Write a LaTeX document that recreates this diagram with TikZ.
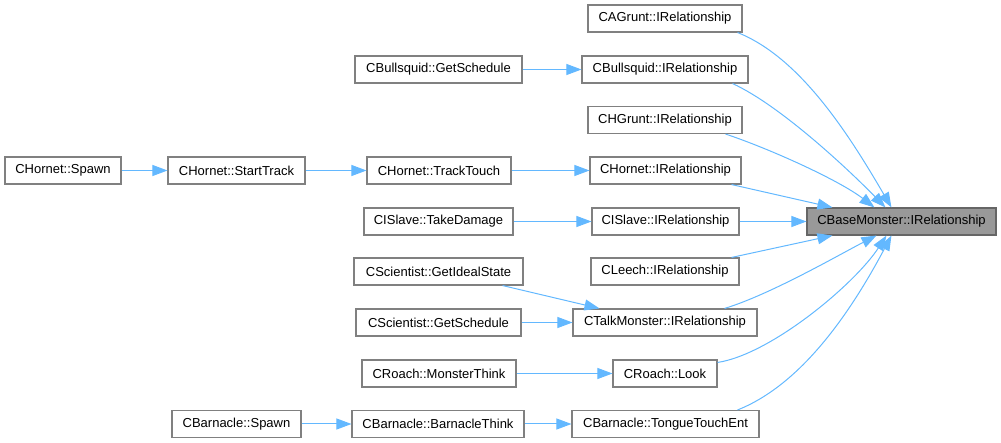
\documentclass[tikz,border=0pt]{standalone}
\usepackage{fontspec}
\setmainfont{Liberation Sans}
\usetikzlibrary{arrows.meta,calc}
\definecolor{edgeblue}{HTML}{63B8FF}
\definecolor{boxgray}{HTML}{808080}
\definecolor{basefill}{HTML}{999999}
\definecolor{baseline}{HTML}{666666}
\begin{document}
\begin{tikzpicture}[x=1bp,y=-1bp,
  font=\fontsize{13bp}{15bp}\selectfont,
  box/.style={draw=boxgray, line width=1.1bp, fill=white, minimum height=27bp, inner sep=0pt, anchor=center},
  basebox/.style={box, fill=basefill, draw=baseline},
  edge/.style={draw=edgeblue, line width=1bp, -{Triangle[length=15bp,width=11bp]}}]
\useasboundingbox (0,0) rectangle (1001,443);
% nodes
\node[box, minimum width=154bp] (agrunt) at (665,18.5) {CAGrunt::IRelationship};
\node[box, minimum width=167bp] (bsqgs) at (438.5,69.5) {CBullsquid::GetSchedule};
\node[box, minimum width=166bp] (bsq) at (665,69.5) {CBullsquid::IRelationship};
\node[box, minimum width=154bp] (hgrunt) at (665,120) {CHGrunt::IRelationship};
\node[box, minimum width=116bp] (hspawn) at (63,170.5) {CHornet::Spawn};
\node[box, minimum width=137bp] (hstart) at (236.5,170.5) {CHornet::StartTrack};
\node[box, minimum width=144bp] (htouch) at (439,170.5) {CHornet::TrackTouch};
\node[box, minimum width=151bp] (hrel) at (665.5,170.5) {CHornet::IRelationship};
\node[box, minimum width=149bp] (istd) at (438.5,221.5) {CISlave::TakeDamage};
\node[box, minimum width=147bp] (isrel) at (665.5,221.5) {CISlave::IRelationship};
\node[basebox, minimum width=189bp] (base) at (901.5,221.5) {CBaseMonster::IRelationship};
\node[box, minimum width=169bp] (scgis) at (438.5,271.5) {CScientist::GetIdealState};
\node[box, minimum width=148bp] (leech) at (665,271.5) {CLeech::IRelationship};
\node[box, minimum width=165bp] (scgs) at (438.5,322.5) {CScientist::GetSchedule};
\node[box, minimum width=184bp] (talk) at (665,322.5) {CTalkMonster::IRelationship};
\node[box, minimum width=154bp] (rmt) at (439,373.5) {CRoach::MonsterThink};
\node[box, minimum width=104bp] (rlook) at (665,373.5) {CRoach::Look};
\node[box, minimum width=129bp] (bspawn) at (236.5,424) {CBarnacle::Spawn};
\node[box, minimum width=172bp] (bthink) at (438,424) {CBarnacle::BarnacleThink};
\node[box, minimum width=187bp] (btongue) at (665.5,424) {CBarnacle::TongueTouchEnt};
% straight edges
\draw[edge] (bsqgs) -- (bsq);
\draw[edge] (hspawn) -- (hstart);
\draw[edge] (hstart) -- (htouch);
\draw[edge] (htouch) -- (hrel);
\draw[edge] (istd) -- (isrel);
\draw[edge] (isrel) -- (base);
\draw[edge] (scgs) -- (talk);
\draw[edge] (rmt) -- (rlook);
\draw[edge] (bspawn) -- (bthink);
\draw[edge] (bthink) -- (btongue);
\draw[edge] ($(scgis.south east)+(-21,0)$) -- ($(talk.north west)+(27,0)$);
\draw[edge] ($(hrel.south east)+(-10,0)$) -- ($(base.north west)+(26,0)$);
\draw[edge] ($(leech.north east)+(-8,0)$) -- ($(base.south west)+(26,0)$);
% curved edges into CBaseMonster
\draw[edge] ($(agrunt.south east)+(-5,0)$) .. controls +(63,25) and +(-42,-72) .. ($(base.north west)+(85,0)$);
\draw[edge] ($(bsq.south east)+(-16,0)$) .. controls +(48,22) and +(-36,-37) .. ($(base.north west)+(79,0)$);
\draw[edge] ($(hgrunt.south east)+(-17,0)$) .. controls +(45,15) and +(-35,-27) .. ($(base.north west)+(68,0)$);
\draw[edge] ($(talk.north east)+(-33,0)$) .. controls +(46,-14) and +(-37,19) .. ($(base.south west)+(70,0)$);
\draw[edge] ($(rlook.north east)+(0,3)$) .. controls +(53,-8) and +(-32,49) .. ($(base.south west)+(80,0)$);
\draw[edge] ($(btongue.north east)+(-22,0)$) .. controls +(63,-25) and +(-42,79) .. ($(base.south west)+(85,0)$);
\end{tikzpicture}
\end{document}
